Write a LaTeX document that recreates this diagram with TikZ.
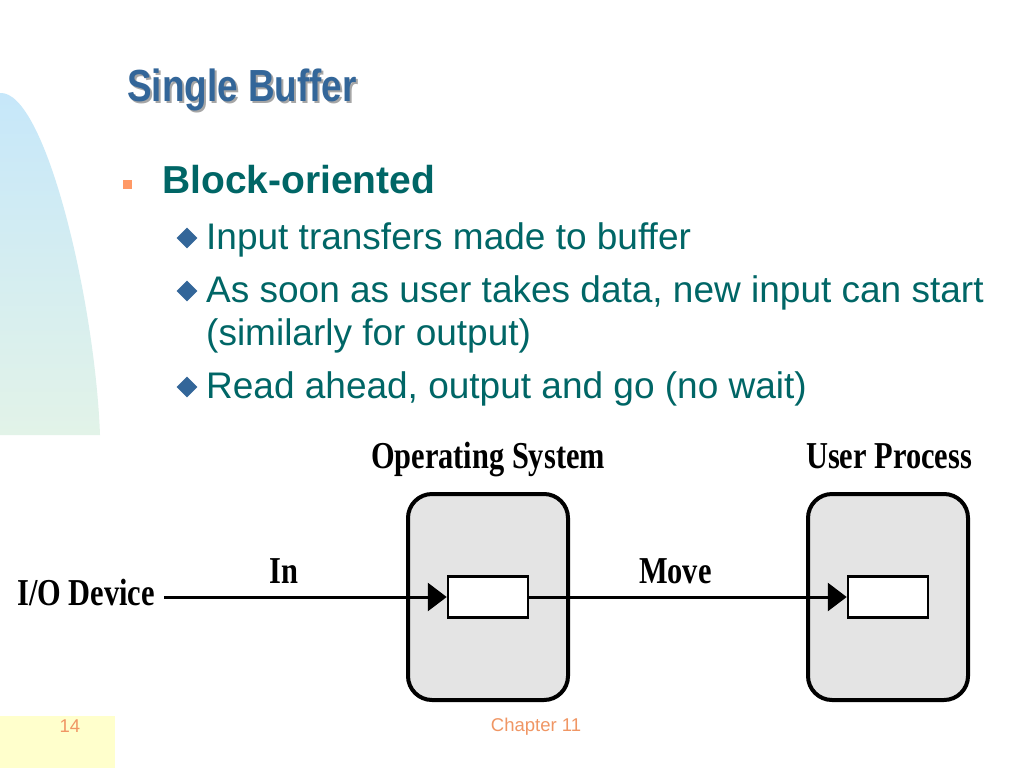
\documentclass[tikz,border=0pt]{standalone}
\usepackage{fontspec}
\setmainfont{Liberation Sans}
\newfontfamily\figfont{Liberation Serif}
\usetikzlibrary{shapes.geometric}
\usetikzlibrary{positioning}
\usetikzlibrary{calc}
\usetikzlibrary{arrows.meta}
\definecolor{titleblue}{RGB}{51,102,153}
\definecolor{textteal}{RGB}{0,102,102}
\definecolor{bulletorange}{RGB}{255,153,102}
\definecolor{footorange}{RGB}{240,150,100}
\definecolor{boxgray}{RGB}{228,228,228}
\definecolor{sidetop}{RGB}{198,231,250}
\definecolor{sidebottom}{RGB}{226,243,232}
\definecolor{footyellow}{RGB}{255,255,204}

\begin{document}
\begin{tikzpicture}
			[
				x = 1pt, y = -1pt,
				mytitle/.style = {anchor = base west, inner sep = 0pt, font = \fontsize{45}{50}\selectfont\bfseries},
				myhead/.style = {anchor = base west, inner sep = 0pt, text = textteal, font = \fontsize{39}{46}\selectfont\bfseries},
				myitem/.style = {anchor = base west, inner sep = 0pt, text = textteal, font = \fontsize{37}{44}\selectfont},
				mydiamond/.style = {diamond, fill = titleblue, inner sep = 0pt, minimum width = 21pt, minimum height = 21pt},
				myfoot/.style = {inner sep = 0pt, text = footorange, font = \fontsize{18.5}{22}\selectfont},
				myblock/.style = {draw, rectangle, line width = 4pt, rounded corners = 24pt, fill = boxgray, minimum width = 160pt, minimum height = 206pt},
				mybuffer/.style = {draw, rectangle, line width = 2.5pt, fill = white, minimum width = 80pt, minimum height = 41pt},
				myvariable/.style = {anchor = base, inner sep = 0pt, font = \fontsize{38}{44}\selectfont\figfont\bfseries},
				myarrow/.style = {line width = 3pt, -{Triangle[length = 19pt, width = 28pt]}}
			]
			%
			\useasboundingbox (0,0) rectangle (1024,768);
			\fill [white] (0,0) rectangle (1024,768);
			%
			\shade [top color = sidetop, bottom color = sidebottom] (0,93) .. controls (45,90) and (95,300) .. (100,435) -- (0,435) -- cycle;
			\fill [footyellow] (0,716) rectangle (115,768);
			%
			\node (titleshadow) [mytitle, text = black!35] at (129,103) {\scalebox{0.82}[1]{Single Buffer}};
			\node (title) [mytitle, text = titleblue] at (127,101) {\scalebox{0.82}[1]{Single Buffer}};
			%
			\node (headbullet) [fill = bulletorange, inner sep = 0pt, minimum size = 9pt] at (127.5,184.5) {};
			\node (head) [myhead] at (162,193) {Block-oriented};
			%
			\node (bulletone) [mydiamond] at (187,238) {};
			\node (itemone) [myitem] at (206,249) {Input transfers made to buffer};
			\node (bullettwo) [mydiamond] at (187,291) {};
			\node (itemtwo) [myitem] at (206,302) {As soon as user takes data, new input can start};
			\node (itemtwob) [myitem] at (206,345) {(similarly for output)};
			\node (bulletthree) [mydiamond] at (187,387) {};
			\node (itemthree) [myitem] at (206,398) {Read ahead, output and go (no wait)};
			%
			\node (osbox) [myblock] at (488,597) {};
			\node (osbuf) [mybuffer] at (osbox) {};
			\node (oslabel) [myvariable] at (488,468) {\scalebox{0.8}[1]{Operating System}};
			%
			\node (userbox) [myblock] at (888,597) {};
			\node (userbuf) [mybuffer] at (userbox) {};
			\node (userlabel) [myvariable] at (889,468) {\scalebox{0.8}[1]{User Process}};
			%
			\node (iodev) [myvariable, anchor = base west] at (17,605) {\scalebox{0.8}[1]{I/O Device}};
			\draw [myarrow] ($(iodev.east |- osbuf.west) + (9,0)$) -- (osbuf.west) node (lblin) [myvariable, pos = 0.425, yshift = 14pt] {\scalebox{0.8}[1]{In}};
			%
			\draw [myarrow] (osbuf.east) -- (userbuf.west) node (lblmove) [myvariable, pos = 0.46, yshift = 14pt] {\scalebox{0.8}[1]{Move}};
			%
			\node (pagenum) [myfoot] at (70,726) {14};
			\node (chapter) [myfoot] at (536,727) {Chapter 11};
			%
		\end{tikzpicture}
\end{document}
